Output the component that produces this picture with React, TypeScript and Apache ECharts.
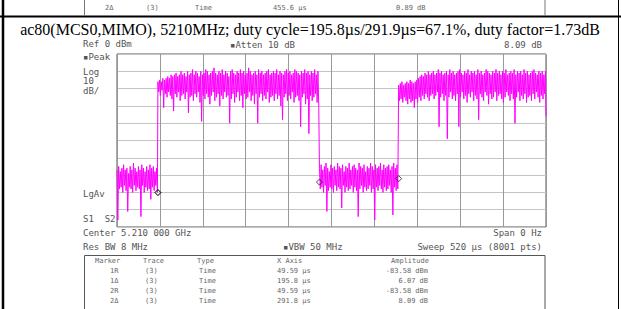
import React, { useEffect, useRef } from "react";
import * as echarts from "echarts";

// ---- data ----
const titleText =
  "ac80(MCS0,MIMO), 5210MHz; duty cycle=195.8µs/291.9µs=67.1%, duty factor=1.73dB";

// trace segments: start/end time (µs), per-2µs-bin max / min level (dBm)
const segStart = [0, 49.59, 245.39, 341.39];
const segEnd = [49.59, 245.39, 341.39, 520];
const binStep = 2; // µs

const maxA = [
  -67, -65, -68, -66, -64, -67, -66, -69, -65, -67,
  -63, -66, -68, -65, -67, -64, -66, -68, -65, -67,
  -64, -66, -65, -68, -66,
];
const minA = [
  -96, -78, -77, -80, -76, -79, -91, -77, -78, -80,
  -76, -79, -77, -78, -94, -76, -80, -77, -79, -78,
  -84, -77, -79, -76, -80,
];
const maxB = [
  -16, -15, -16, -14, -15, -14, -13, -14, -12, -13,
  -12, -11, -13, -12, -10, -12, -11, -13, -10, -12,
  -11, -9, -12, -10, -11, -13, -10, -12, -11, -9,
  -10, -12, -11, -10, -8, -11, -12, -10, -11, -9,
  -12, -10, -11, -13, -10, -9, -11, -12, -10, -11,
  -9, -11, -10, -12, -11, -8, -10, -12, -11, -10,
  -12, -9, -11, -10, -12, -11, -10, -9, -12, -11,
  -10, -11, -9, -12, -10, -11, -12, -10, -9, -11,
  -10, -12, -11, -9, -10, -11, -12, -10, -11, -9,
  -11, -10, -12, -10, -11, -9, -12, -10,
];
const minB = [
  -22, -24, -21, -31, -23, -25, -22, -24, -26, -33,
  -23, -25, -22, -27, -24, -23, -26, -22, -34, -25,
  -24, -27, -23, -25, -22, -28, -39, -24, -26, -23,
  -25, -29, -24, -22, -27, -25, -23, -30, -24, -26,
  -22, -25, -24, -40, -26, -23, -28, -25, -22, -27,
  -24, -31, -23, -26, -25, -22, -27, -24, -29, -23,
  -40, -25, -23, -27, -24, -26, -22, -28, -25, -24,
  -27, -23, -26, -24, -30, -38, -25, -23, -27, -24,
  -26, -22, -28, -25, -24, -27, -42, -25, -23, -29,
  -26, -46, -24, -27, -25, -23, -28, -31,
];
const maxC = [
  -66, -64, -67, -65, -63, -66, -68, -64, -66, -65,
  -67, -63, -65, -66, -64, -68, -65, -66, -63, -67,
  -65, -64, -66, -67, -63, -65, -66, -64, -68, -65,
  -66, -63, -65, -67, -64, -66, -65, -63, -67, -64,
  -66, -65, -64, -67, -65, -63, -66, -64,
];
const minC = [
  -78, -77, -80, -76, -91, -79, -77, -78, -80, -76,
  -79, -77, -78, -89, -76, -80, -77, -79, -78, -76,
  -80, -77, -79, -94, -78, -76, -80, -77, -79, -78,
  -76, -80, -78, -96, -77, -79, -76, -78, -80, -77,
  -79, -78, -76, -80, -93, -77, -79, -78,
];
const maxD = [
  -18, -17, -16, -18, -17, -16, -17, -15, -16, -17,
  -16, -15, -14, -13, -12, -13, -11, -12, -10, -12,
  -11, -10, -12, -11, -9, -11, -10, -12, -11, -10,
  -12, -9, -11, -10, -12, -11, -10, -9, -11, -12,
  -10, -11, -9, -12, -10, -11, -10, -12, -9, -11,
  -10, -12, -11, -9, -10, -11, -12, -10, -11, -9,
  -11, -10, -12, -10, -11, -9, -12, -11, -10, -11,
  -9, -12, -10, -11, -10, -12, -9, -11, -10, -12,
  -11, -10, -9, -11, -12, -10, -11, -10, -12, -10,
];
const minD = [
  -27, -26, -28, -25, -27, -29, -26, -28, -27, -31,
  -26, -28, -25, -27, -24, -26, -23, -25, -27, -24,
  -23, -26, -24, -22, -42, -25, -23, -27, -24, -49,
  -25, -22, -26, -24, -27, -23, -42, -25, -22, -26,
  -24, -28, -23, -25, -22, -27, -24, -26, -38, -23,
  -25, -27, -22, -24, -29, -23, -26, -25, -22, -27,
  -24, -23, -26, -28, -25, -22, -24, -27, -23, -26,
  -40, -25, -22, -27, -24, -26, -23, -28, -25, -24,
  -27, -23, -26, -22, -25, -28, -24, -26, -23, -36,
];

// markers on trace
const markerTimes = [49.59, 245.39, 49.59, 341.39];
const markerLevels = [-83.58, -77.51, -83.58, -75.49];

// marker table
const markerNames = ["1R", "1Δ", "2R", "2Δ"];
const markerTrace = ["(3)", "(3)", "(3)", "(3)"];
const markerType = ["Time", "Time", "Time", "Time"];
const markerX = ["49.59 µs", "195.8 µs", "49.59 µs", "291.8 µs"];
const markerAmp = ["-83.58 dBm", "6.07 dB", "-83.58 dBm", "8.09 dB"];

// previous row fragment at top
const prevRow = ["2Δ", "(3)", "Time", "455.6 µs", "0.89 dB"];

const xMin = 0;
const xMax = 520;
const xInterval = 52;
const yMin = -100;
const yMax = 0;
const yInterval = 10;

function buildTrace(): [number, number][] {
  const segs = [
    [maxA, minA],
    [maxB, minB],
    [maxC, minC],
    [maxD, minD],
  ];
  const pts: [number, number][] = [];
  segs.forEach(([mx, mn], s) => {
    mx.forEach((v, i) => {
      const t = segStart[s] + i * binStep;
      pts.push([t, v]);
      pts.push([Math.min(t + binStep / 2, segEnd[s]), mn[i]]);
    });
  });
  return pts;
}

const GRAY = "#555";
const MONO = "'DejaVu Sans Mono', monospace";

function txt(text: string, x: number, y: number, opts: any = {}) {
  return {
    type: "text",
    silent: true,
    style: {
      text,
      x,
      y,
      font: opts.font || `9px ${MONO}`,
      fill: opts.fill || GRAY,
      textAlign: opts.align || "left",
      textVerticalAlign: "middle",
    },
  };
}

function ln(x1: number, y1: number, x2: number, y2: number, w = 1, c = "#000") {
  return {
    type: "line",
    silent: true,
    shape: { x1, y1, x2, y2 },
    style: { stroke: c, lineWidth: w },
  };
}

export default function App() {
  const ref = useRef<HTMLDivElement>(null);
  useEffect(() => {
    if (!ref.current) return;
    const chart = echarts.init(ref.current, null, { renderer: "svg" });
    const tableFont = `7px ${MONO}`;
    const tableFill = "#666";
    const rowsY = [271, 281, 291, 301];
    const graphics: any[] = [
      // outer frame lines
      ln(3, 0, 3, 309, 2.5),
      ln(618.5, 0, 618.5, 309, 1),
      ln(0, 16.5, 621, 16.5, 2),
      // previous table fragment
      ln(84.5, 0, 84.5, 16, 1, "#777"),
      ln(545, 0, 545, 16, 1, "#777"),
      txt(prevRow[0], 105, 8, { font: tableFont, fill: tableFill }),
      txt(prevRow[1], 146, 8, { font: tableFont, fill: tableFill }),
      txt(prevRow[2], 195, 8, { font: tableFont, fill: tableFill }),
      txt(prevRow[3], 273, 8, { font: tableFont, fill: tableFill }),
      txt(prevRow[4], 396, 8, { font: tableFont, fill: tableFill }),
      // title
      {
        type: "text",
        silent: true,
        style: {
          text: titleText,
          x: 310,
          y: 29,
          font: "16px 'Liberation Serif', serif",
          fill: "#000",
          textAlign: "center",
          textVerticalAlign: "middle",
        },
      },
      // analyzer annotations
      txt("Ref 0 dBm", 83, 44),
      txt("▪Atten 10 dB", 230, 45),
      txt("8.09 dB", 542, 45, { align: "right" }),
      txt("▪Peak", 83, 57),
      txt("Log", 83, 72),
      txt("10", 83, 81),
      txt("dB/", 83, 91),
      txt("LgAv", 83, 194),
      txt("S1  S2", 83, 219),
      txt("Center 5.210 000 GHz", 83, 233),
      txt("Span 0 Hz", 542, 233, { align: "right" }),
      txt("Res BW 8 MHz", 83, 247),
      txt("▪VBW 50 MHz", 283, 247),
      txt("Sweep 520 µs (8001 pts)", 542, 247, { align: "right" }),
      // marker table box
      ln(84.5, 255.5, 545, 255.5, 1, "#555"),
      ln(84.5, 255.5, 84.5, 309, 1, "#555"),
      ln(545, 255.5, 545, 309, 1, "#555"),
      txt("Marker", 95, 261, { font: tableFont, fill: tableFill }),
      txt("Trace", 143, 261, { font: tableFont, fill: tableFill }),
      txt("Type", 197, 261, { font: tableFont, fill: tableFill }),
      txt("X Axis", 277, 261, { font: tableFont, fill: tableFill }),
      txt("Amplitude", 391, 261, { font: tableFont, fill: tableFill }),
    ];
    markerNames.forEach((n, i) => {
      graphics.push(txt(n, 110, rowsY[i], { font: tableFont, fill: tableFill }));
      graphics.push(txt(markerTrace[i], 145, rowsY[i], { font: tableFont, fill: tableFill }));
      graphics.push(txt(markerType[i], 199, rowsY[i], { font: tableFont, fill: tableFill }));
      graphics.push(txt(markerX[i], 277, rowsY[i], { font: tableFont, fill: tableFill }));
      graphics.push(txt(markerAmp[i], 428, rowsY[i], { font: tableFont, fill: tableFill, align: "right" }));
    });

    chart.setOption({
      animation: false,
      backgroundColor: "#fff",
      grid: {
        left: 117,
        top: 54,
        width: 429,
        height: 173,
        show: true,
        borderColor: "#555",
        borderWidth: 1,
        backgroundColor: "transparent",
      },
      xAxis: {
        type: "value",
        min: xMin,
        max: xMax,
        interval: xInterval,
        axisLine: { show: false },
        axisTick: { show: false },
        axisLabel: { show: false },
        splitLine: { show: true, lineStyle: { color: "#999", width: 1 } },
      },
      yAxis: {
        type: "value",
        min: yMin,
        max: yMax,
        interval: yInterval,
        axisLine: { show: false },
        axisTick: { show: false },
        axisLabel: { show: false },
        splitLine: { show: true, lineStyle: { color: "#c4c4c4", width: 1 } },
      },
      series: [
        {
          type: "line",
          data: buildTrace(),
          showSymbol: false,
          symbol: "none",
          lineStyle: { color: "#ff00ff", width: 1 },
          silent: true,
          z: 2,
        },
        {
          type: "scatter",
          data: markerTimes.map((t, i) => [t, markerLevels[i]]),
          symbol: "diamond",
          symbolSize: 6,
          symbolOffset: [0, -6],
          itemStyle: { color: "rgba(0,0,0,0)", borderColor: "#222", borderWidth: 1 },
          silent: true,
          z: 3,
        },
      ],
      graphic: graphics,
    });
    return () => chart.dispose();
  }, []);
  return (
    <div
      ref={ref}
      style={{ position: "fixed", left: 0, top: 0, width: 621, height: 309, background: "#fff" }}
    />
  );
}
